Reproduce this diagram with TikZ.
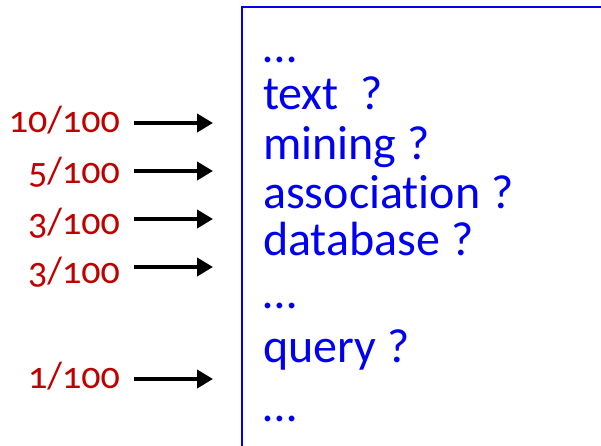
\documentclass[tikz,border=0pt]{standalone}
\usepackage{fontspec}
\setmainfont{Carlito}[Numbers=OldStyle, Ligatures=NoCommon]
\usetikzlibrary{arrows.meta}
\definecolor{wordblue}{HTML}{0000F0}
\definecolor{freqred}{HTML}{C00000}

\begin{document}
\begin{tikzpicture}[x=1pt,y=-1pt,
  freq/.style={text=freqred, font=\fontsize{38}{40}\selectfont, anchor=base east, inner sep=0pt},
  word/.style={text=wordblue, font=\fontsize{48}{50}\selectfont, anchor=base west, inner sep=0pt},
  ptr/.style={line width=4.5pt, -{Triangle[length=16pt,width=18pt]}}]

\useasboundingbox (0,0) rectangle (601,446);

% Vocabulary box (runs off the page on the right and bottom)
\draw[wordblue, line width=2.5pt] (242,7) rectangle (640,480);

% Words in the box
\node[word] (w0) at (263,63)  {…};
\node[word] (w1) at (263,110) {text ~?};
\node[word] (w2) at (263,160) {mining ?};
\node[word] (w3) at (263,208) {association ?};
\node[word] (w4) at (263,255) {database ?};
\node[word] (w5) at (263,308) {…};
\node[word] (w6) at (263,362) {query ?};
\node[word] (w7) at (263,421) {…};

% Frequencies with arrows
\foreach \i/\f/\yb/\ya in {1/{10/100}/133/123, 2/{5/100}/183/171, 3/{3/100}/234/219, 4/{3/100}/283/267, 5/{1/100}/388/379} {
  \node[freq] (f\i) at (120,\yb) {\f};
  \coordinate (s\i) at (134,\ya);
  \coordinate (e\i) at (213,\ya);
  \draw[ptr] (s\i) -- (e\i);
}
\end{tikzpicture}
\end{document}
